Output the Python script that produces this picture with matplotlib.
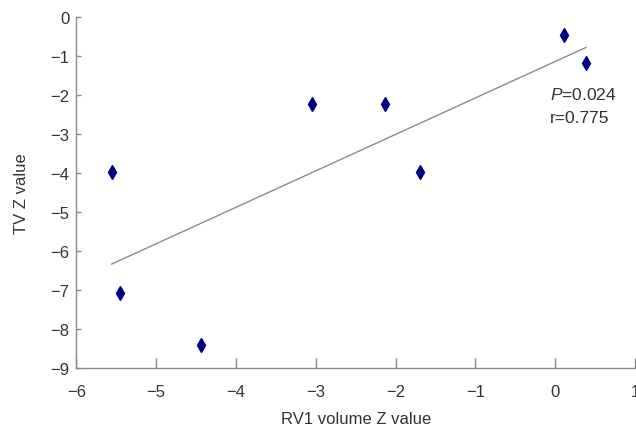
import numpy as np
import matplotlib
matplotlib.use("Agg")
import matplotlib.pyplot as plt

# values
rv1_z = [-5.556, -5.449, -4.441, -3.05, -2.128, -1.697, 0.115, 0.387]
tv_z = [-3.97, -7.06, -8.39, -2.22, -2.22, -3.97, -0.45, -1.17]
x_ticks = [-6, -5, -4, -3, -2, -1, 0, 1]
y_ticks = [0, -1, -2, -3, -4, -5, -6, -7, -8, -9]
p_text = "0.024"
r_text = "0.775"

plt.rcParams["font.family"] = ["Liberation Sans", "DejaVu Sans"]
plt.rcParams["mathtext.fontset"] = "custom"
plt.rcParams["mathtext.it"] = "Liberation Sans:italic"
plt.rcParams["mathtext.rm"] = "Liberation Sans"

fig = plt.figure(figsize=(6.36, 4.27), dpi=100)
ax = fig.add_axes([0.12, 0.135, 0.8784, 0.822])

x = np.array(rv1_z)
y = np.array(tv_z)
slope, intercept = np.polyfit(x, y, 1)
xs = np.array([x.min(), x.max()])
ax.plot(xs, slope * xs + intercept, color="#8a8a8a", lw=1.0)
ax.plot(x, y, linestyle="none", marker="d", markersize=7,
        color="#000080", markeredgecolor="#000080")

ax.set_xlim(-6, 1)
ax.set_ylim(-9, 0)
ax.set_xticks(x_ticks)
ax.set_yticks(y_ticks)
ax.set_xticklabels([str(t).replace("-", "\u2212") for t in x_ticks])
ax.set_yticklabels([str(t).replace("-", "\u2212") for t in y_ticks])

for side in ["top", "right"]:
    ax.spines[side].set_visible(False)
for side in ["left", "bottom"]:
    ax.spines[side].set_color("#8a8a8a")
    ax.spines[side].set_linewidth(1.0)

ax.tick_params(axis="x", direction="in", length=7, width=1, color="#8a8a8a",
               pad=11, labelsize=12, labelcolor="#333333")
ax.tick_params(axis="y", direction="in", length=3.5, width=1, color="#8a8a8a",
               pad=5, labelsize=12, labelcolor="#333333")

ax.set_xlabel("RV1 volume Z value", fontsize=12, color="#333333", labelpad=9)
ax.set_ylabel("TV Z value", fontsize=12, color="#333333", labelpad=15)

ax.text(-0.07, -1.97, r"$\it{P}$=" + p_text, fontsize=12.5, color="#333333",
        va="center", ha="left")
ax.text(-0.07, -2.56, "r=" + r_text, fontsize=12.5, color="#333333",
        va="center", ha="left")

fig.savefig("out.png", dpi=100)
